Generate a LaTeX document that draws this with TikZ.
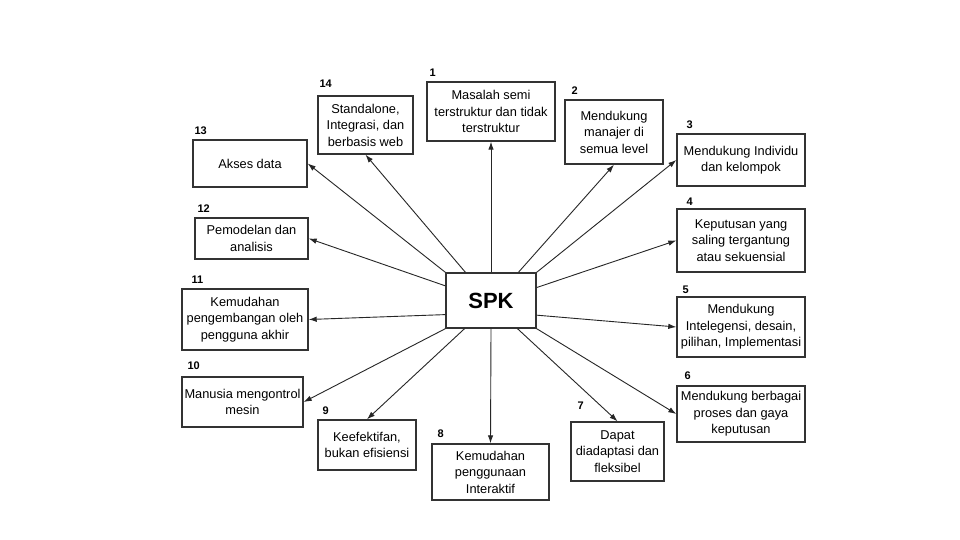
\documentclass[tikz,border=0pt]{standalone}
\usepackage{fontspec}
\setmainfont{Liberation Sans}
\usetikzlibrary{arrows.meta,calc}
\begin{document}
\begin{tikzpicture}[x=1pt,y=-1pt,
  box/.style={draw=black!80,line width=1.4pt,fill=white,align=center,inner sep=1pt,
    font=\fontsize{12.8}{16.5}\selectfont},
  num/.style={font=\bfseries\fontsize{11}{12}\selectfont,inner sep=0pt,anchor=base west},
  arr/.style={draw=black!85,line width=0.9pt,-{Latex[length=8pt,width=5.5pt]}}]
\useasboundingbox[fill=white] (0,0) rectangle (960,540);

\node[box,minimum width=90pt,minimum height=55pt,font=\bfseries\fontsize{22}{24}\selectfont] (spk) at (491,300.5) {SPK};

\node[box,minimum width=128pt,minimum height=59pt] (b1) at (491,111.5) {Masalah semi\\terstruktur dan tidak\\terstruktur};
\node[box,minimum width=98pt,minimum height=64pt] (b2) at (614,132) {Mendukung\\manajer di\\semua level};
\node[box,minimum width=128pt,minimum height=52pt] (b3) at (741,160) {Mendukung Individu\\dan kelompok};
\node[box,minimum width=128pt,minimum height=63pt] (b4) at (741,240.5) {Keputusan yang\\saling tergantung\\atau sekuensial};
\node[box,minimum width=128pt,minimum height=60pt] (b5) at (741,327) {Mendukung\\Intelegensi, desain,\\pilihan, Implementasi};
\node[box,minimum width=128pt,minimum height=56pt] (b6) at (741,414) {Mendukung berbagai\\proses dan gaya\\keputusan};
\node[box,minimum width=93pt,minimum height=59pt] (b7) at (617.5,451.5) {Dapat\\diadaptasi dan\\fleksibel};
\node[box,minimum width=117pt,minimum height=56pt] (b8) at (490.5,472) {Kemudahan\\penggunaan\\Interaktif};
\node[box,minimum width=98pt,minimum height=50pt] (b9) at (367,445) {Keefektifan,\\bukan efisiensi};
\node[box,minimum width=121pt,minimum height=50pt] (b10) at (242.5,402) {Manusia mengontrol\\mesin};
\node[box,minimum width=126pt,minimum height=61pt] (b11) at (245,319.5) {Kemudahan\\pengembangan oleh\\pengguna akhir};
\node[box,minimum width=113pt,minimum height=41pt] (b12) at (251.5,238.5) {Pemodelan dan\\analisis};
\node[box,minimum width=114pt,minimum height=47pt] (b13) at (250,163.5) {Akses data};
\node[box,minimum width=95pt,minimum height=58pt] (b14) at (365.5,125) {Standalone,\\Integrasi, dan\\berbasis web};

\node[num] (n1) at ($(b1.north west)+(3,-5)$) {1};
\node[num] (n2) at ($(b2.north west)+(7,-5)$) {2};
\node[num] (n3) at ($(b3.north west)+(10,-5)$) {3};
\node[num] (n4) at ($(b4.north west)+(10,-3)$) {4};
\node[num] (n5) at ($(b5.north west)+(6,-3)$) {5};
\node[num] (n6) at ($(b6.north west)+(8,-6)$) {6};
\node[num] (n7) at ($(b7.north west)+(7,-12)$) {7};
\node[num] (n8) at ($(b8.north west)+(6,-6)$) {8};
\node[num] (n9) at ($(b9.north west)+(5,-5)$) {9};
\node[num] (n10) at ($(b10.north west)+(6,-7)$) {10};
\node[num] (n11) at ($(b11.north west)+(10,-5)$) {11};
\node[num] (n12) at ($(b12.north west)+(3,-5)$) {12};
\node[num] (n13) at ($(b13.north west)+(2,-5)$) {13};
\node[num] (n14) at ($(b14.north west)+(2,-8)$) {14};

\draw[arr] (spk.north) -- (b1.south);
\draw[arr] ($(spk.north west)!0.8!(spk.north east)$) -- (b2.south);
\draw[arr] (spk.north east) -- (b3.west);
\draw[arr] ($(spk.north east)!0.27!(spk.south east)$) -- (b4.west);
\draw[arr] ($(spk.north east)!0.76!(spk.south east)$) -- (b5.west);
\draw[arr] (spk.south east) -- (b6.west);
\draw[arr] ($(spk.south west)!0.79!(spk.south east)$) -- (b7.north);
\draw[arr] (spk.south) -- (b8.north);
\draw[arr] ($(spk.south west)!0.21!(spk.south east)$) -- (b9.north);
\draw[arr] (spk.south west) -- (b10.east);
\draw[arr] ($(spk.north west)!0.75!(spk.south west)$) -- (b11.east);
\draw[arr] ($(spk.north west)!0.24!(spk.south west)$) -- (b12.east);
\draw[arr] (spk.north west) -- (b13.east);
\draw[arr] ($(spk.north west)!0.22!(spk.north east)$) -- (b14.south);
\end{tikzpicture}
\end{document}
